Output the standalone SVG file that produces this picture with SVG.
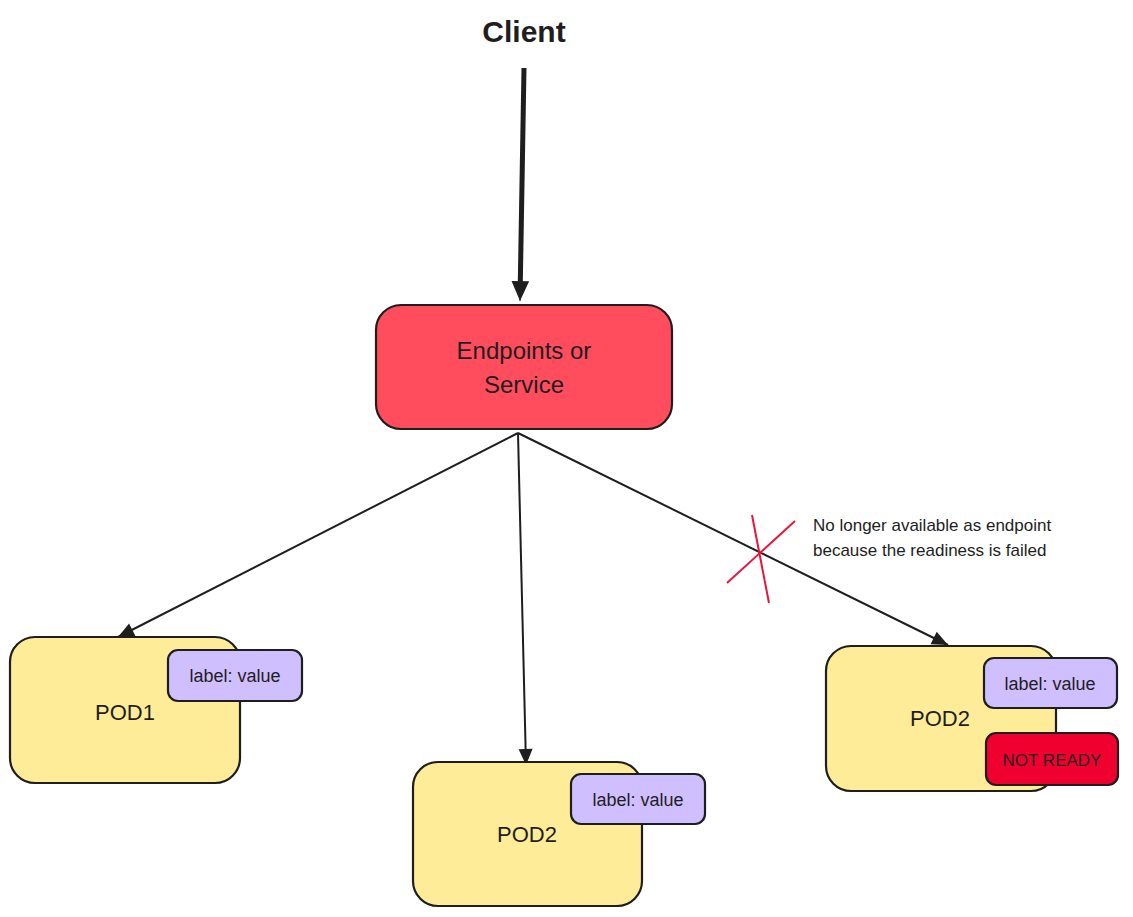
<svg xmlns="http://www.w3.org/2000/svg" width="1133" height="917" viewBox="0 0 1133 917">
<defs>
<style>
.t{font-family:"Liberation Sans",Arial,sans-serif;fill:#1e1e1e}
.box{stroke:#1e1e1e;stroke-width:2.2}
.pod{fill:#ffec99}
.lbl{fill:#d0bfff}
.line{stroke:#1e1e1e;stroke-width:2;fill:none}
</style>
<marker id="ah" viewBox="0 0 20 20" refX="18" refY="10" markerWidth="20" markerHeight="20" markerUnits="userSpaceOnUse" orient="auto">
<path d="M2,3 L18,10 L2,17 Z" fill="#1e1e1e"/>
</marker>
<marker id="ahb" viewBox="0 0 20 20" refX="19" refY="10" markerWidth="22" markerHeight="22" markerUnits="userSpaceOnUse" orient="auto">
<path d="M1,2 L19,10 L1,18 Z" fill="#1e1e1e"/>
</marker>
</defs>
<rect width="1133" height="917" fill="#ffffff"/>
<g id="client">
<text class="t" x="524" y="42" font-size="30" font-weight="bold" text-anchor="middle">Client</text>
</g>
<g id="connectors">
<line x1="524" y1="68" x2="520.3" y2="282" stroke="#1e1e1e" stroke-width="5"/>
<line x1="520.4" y1="278" x2="520" y2="301" stroke="#1e1e1e" stroke-width="1" marker-end="url(#ahb)"/>
<line class="line" x1="518" y1="433" x2="118" y2="637" marker-end="url(#ah)"/>
<line class="line" x1="518" y1="433" x2="526" y2="765" marker-end="url(#ah)"/>
<line class="line" x1="518" y1="433" x2="948" y2="645" marker-end="url(#ah)"/>
</g>
<g id="endpoints">
<rect class="box" x="376" y="305" width="296" height="124" rx="25" fill="#ff4d5e"/>
<text class="t" x="524" y="359" font-size="24" text-anchor="middle">Endpoints or</text>
<text class="t" x="524" y="393" font-size="24" text-anchor="middle">Service</text>
</g>
<g id="cross">
<line x1="752" y1="515" x2="769" y2="603" stroke="#e8153d" stroke-width="2"/>
<line x1="727" y1="583" x2="795" y2="521" stroke="#e8153d" stroke-width="2"/>
</g>
<g id="note">
<text class="t" x="813" y="531" font-size="17">No longer available as endpoint</text>
<text class="t" x="813" y="556" font-size="17">because the readiness is failed</text>
</g>
<g id="pod1">
<rect class="box pod" x="10" y="637" width="230" height="146" rx="25"/>
<text class="t" x="125" y="720" font-size="22" text-anchor="middle">POD1</text>
<rect class="box lbl" x="168" y="650" width="134" height="51" rx="10"/>
<text class="t" x="235" y="682" font-size="18" text-anchor="middle">label: value</text>
</g>
<g id="pod2-mid">
<rect class="box pod" x="413" y="762" width="229" height="144" rx="25"/>
<text class="t" x="527" y="842" font-size="22" text-anchor="middle">POD2</text>
<rect class="box lbl" x="571" y="774" width="134" height="50" rx="10"/>
<text class="t" x="638" y="806" font-size="18" text-anchor="middle">label: value</text>
</g>
<g id="pod2-right">
<rect class="box pod" x="826" y="646" width="230" height="145" rx="25"/>
<text class="t" x="940" y="726" font-size="22" text-anchor="middle">POD2</text>
<rect class="box lbl" x="984" y="658" width="133" height="50" rx="10"/>
<text class="t" x="1050" y="690" font-size="18" text-anchor="middle">label: value</text>
<rect class="box" x="986" y="733" width="132" height="52" rx="10" fill="#f0002f"/>
<text class="t" x="1052" y="766" font-size="17" text-anchor="middle">NOT READY</text>
</g>
</svg>
